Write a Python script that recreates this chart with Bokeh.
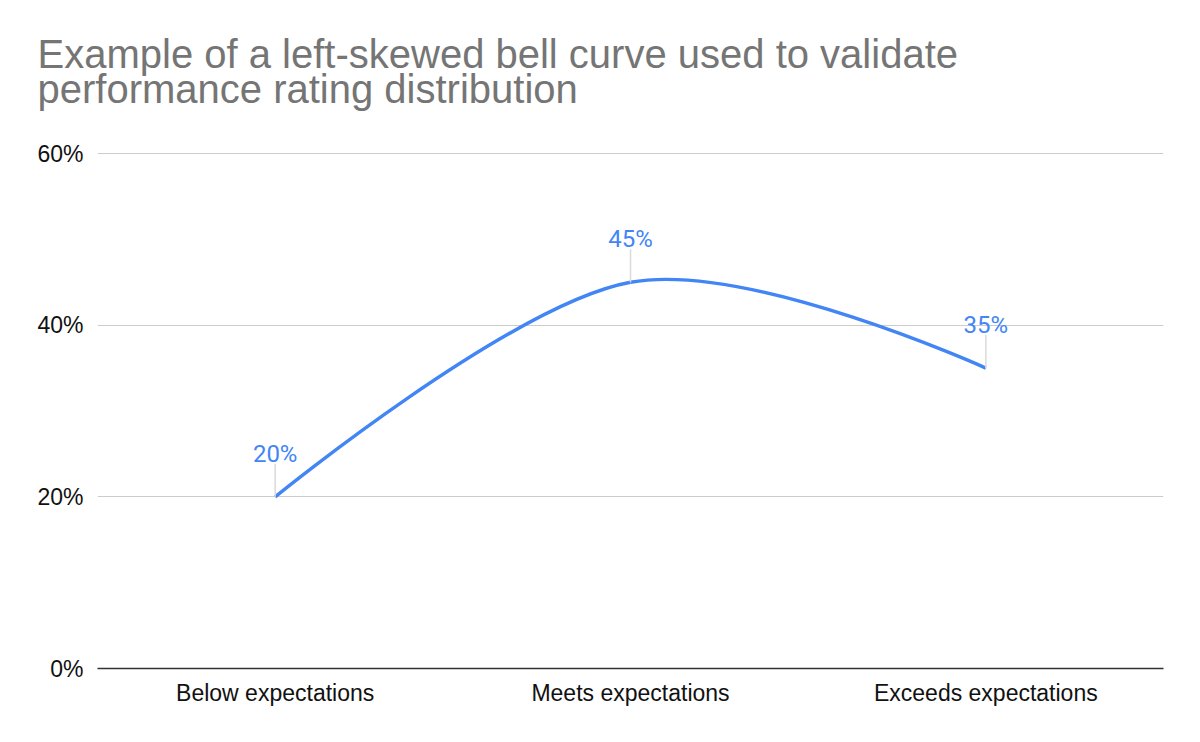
from bokeh.plotting import figure
from bokeh.models import (Range1d, FixedTicker, PrintfTickFormatter, Title,
                          ColumnDataSource)
from bokeh.core.properties import value
from bokeh.embed import file_html
from bokeh.resources import INLINE
import math

# ---- data ----
categories = ["Below expectations", "Meets expectations", "Exceeds expectations"]
values = [20, 45, 35]          # percent
labels = ["20%", "45%", "35%"]
y_ticks = [0, 20, 40, 60]
title_lines = ["Example of a left-skewed bell curve used to validate",
               "performance rating distribution"]

BLUE = "#4285F4"
xs = list(range(len(categories)))

p = figure(width=1184, height=726, output_backend="svg", toolbar_location=None,
           x_range=Range1d(-0.5, len(categories) - 0.5), y_range=Range1d(0, 60.12),
           frame_width=1066, frame_height=516,
           min_border_left=97, min_border_right=21, min_border_top=152,
           min_border_bottom=58)
p.outline_line_color = None
p.background_fill_color = "white"
p.border_fill_color = "white"

# titles (first added sits closest to plot)
t2 = Title(text=title_lines[1], align="left", text_font="Liberation Sans",
           text_font_size="40px", text_font_style="normal", text_color="#757575",
           offset=-60, standoff=84)
t1 = Title(text=title_lines[0], align="left", text_font="Liberation Sans",
           text_font_size="40px", text_font_style="normal", text_color="#757575",
           offset=-60, standoff=-106)
p.add_layout(t2, "above")
p.add_layout(t1, "above")

# axes
p.xaxis.ticker = FixedTicker(ticks=xs)
p.xaxis.major_label_overrides = {i: c for i, c in enumerate(categories)}
p.xaxis.major_tick_line_color = None
p.xaxis.minor_tick_line_color = None
p.xaxis.axis_line_color = "#333333"
p.xaxis.axis_line_width = 1.5
p.xaxis.major_label_text_font = "Liberation Sans"
p.xaxis.major_label_text_font_size = "23px"
p.xaxis.major_label_text_color = "#111111"
p.xaxis.major_label_standoff = 5

p.yaxis.ticker = FixedTicker(ticks=y_ticks)
p.yaxis.formatter = PrintfTickFormatter(format="%d%%")
p.yaxis.major_tick_line_color = None
p.yaxis.minor_tick_line_color = None
p.yaxis.axis_line_color = None
p.yaxis.major_label_text_font = "Liberation Sans"
p.yaxis.major_label_text_font_size = "23px"
p.yaxis.major_label_text_color = "#111111"
p.yaxis.major_label_standoff = 8

p.xgrid.grid_line_color = None
p.ygrid.ticker = FixedTicker(ticks=y_ticks)
p.ygrid.grid_line_color = "#cccccc"
p.ygrid.grid_line_width = 1

# smooth curve (cardinal spline segments built from the data points)
n = len(xs)
tx, ty = [], []
for i in range(n):
    prev_i = max(i - 1, 0)
    next_i = min(i + 1, n - 1)
    if i == 0 or i == n - 1:
        tx.append(0.0); ty.append(0.0)
    else:
        tx.append((xs[next_i] - xs[prev_i]) / 6.0)
        ty.append((values[next_i] - values[prev_i]) / 6.0)
seg = dict(x0=xs[:-1], y0=values[:-1], x1=xs[1:], y1=values[1:],
           cx0=[xs[i] + tx[i] for i in range(n - 1)],
           cy0=[values[i] + ty[i] for i in range(n - 1)],
           cx1=[xs[i + 1] - tx[i + 1] for i in range(n - 1)],
           cy1=[values[i + 1] - ty[i + 1] for i in range(n - 1)])
p.bezier(x0="x0", y0="y0", x1="x1", y1="y1", cx0="cx0", cy0="cy0",
         cx1="cx1", cy1="cy1", source=ColumnDataSource(seg),
         line_color=BLUE, line_width=3.4)

# data label leaders and labels
src = ColumnDataSource(dict(x=xs, y=values, label=labels))
p.ray(x="x", y="y", length=33, length_units="screen", angle=math.pi / 2,
      line_color="#dadada", line_width=1.5, source=src)
p.text(x="x", y="y", text="label", source=src, text_align="center",
       text_baseline="alphabetic", y_offset=-43, text_color=BLUE,
       text_font=value("Roboto"), text_font_size="24px")

open("out.html", "w").write(file_html(p, INLINE))
